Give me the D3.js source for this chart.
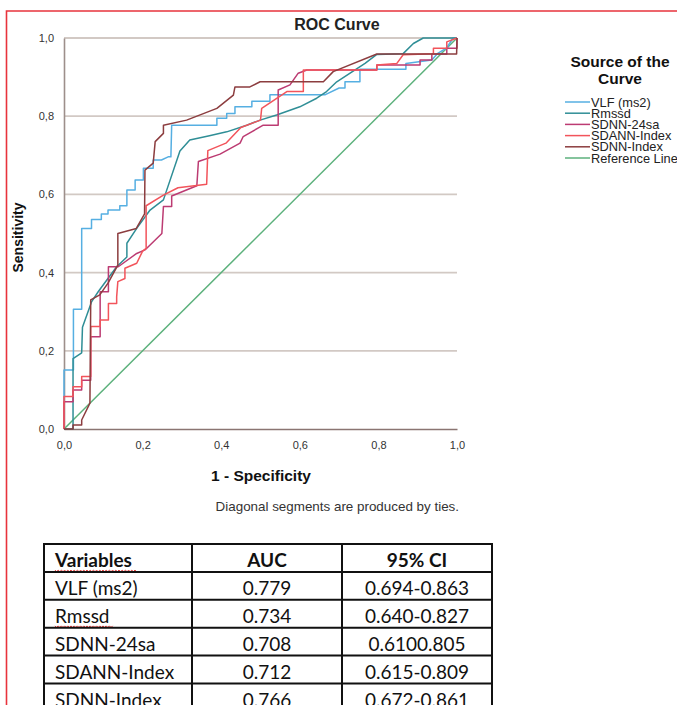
<!DOCTYPE html>
<html>
<head>
<meta charset="utf-8">
<script src="https://cdn.jsdelivr.net/npm/d3@7/dist/d3.min.js"></script>
<style>
  body { margin: 0; background: #ffffff; }
  svg { display: block; }
</style>
</head>
<body>
<svg id="chart" width="677" height="705"></svg>
<script>
// ROC curve coordinates: [1 - specificity, sensitivity]
const vlfPoints = [
  [0,0],[0,0.151],[0.024,0.151],[0.024,0.306],[0.045,0.306],[0.045,0.513],[0.07,0.513],
  [0.07,0.536],[0.095,0.536],[0.095,0.55],[0.112,0.55],[0.112,0.56],[0.142,0.56],
  [0.142,0.571],[0.16,0.571],[0.16,0.611],[0.181,0.611],[0.181,0.637],[0.202,0.637],
  [0.202,0.667],[0.227,0.667],[0.227,0.688],[0.248,0.688],[0.265,0.696],[0.272,0.696],
  [0.274,0.777],[0.389,0.777],[0.389,0.795],[0.414,0.795],[0.414,0.807],[0.435,0.807],
  [0.435,0.824],[0.478,0.824],[0.478,0.838],[0.524,0.838],[0.524,0.855],[0.665,0.855],
  [0.70,0.872],[0.715,0.872],[0.715,0.888],[0.753,0.888],[0.753,0.92],[0.87,0.92],
  [0.87,0.935],[0.936,0.944],[0.95,0.96],[0.974,0.975],[0.99,1],[1,1]
];
const rmssdPoints = [
  [0,0],[0.023,0],[0.023,0.18],[0.045,0.195],[0.047,0.26],[0.07,0.325],[0.087,0.351],
  [0.109,0.381],[0.134,0.415],[0.16,0.44],[0.16,0.475],[0.185,0.513],[0.219,0.56],
  [0.253,0.586],[0.295,0.711],[0.32,0.739],[0.37,0.75],[0.414,0.76],[0.465,0.777],
  [0.499,0.79],[0.541,0.803],[0.60,0.824],[0.643,0.846],[0.668,0.863],[0.694,0.888],
  [0.728,0.91],[0.766,0.935],[0.796,0.958],[0.863,0.96],[0.889,0.986],[0.914,1],[1,1]
];
const sdnn24Points = [
  [0,0],[0,0.07],[0.023,0.07],[0.023,0.10],[0.045,0.10],[0.045,0.125],[0.068,0.125],
  [0.068,0.236],[0.092,0.236],[0.092,0.351],[0.113,0.351],[0.113,0.415],[0.138,0.415],
  [0.185,0.449],[0.206,0.458],[0.249,0.50],[0.253,0.569],[0.274,0.569],[0.274,0.596],
  [0.338,0.622],[0.342,0.684],[0.397,0.703],[0.448,0.731],[0.456,0.748],[0.507,0.777],
  [0.545,0.777],[0.545,0.867],[0.575,0.88],[0.596,0.91],[0.618,0.918],[0.796,0.918],
  [0.796,0.931],[0.906,0.931],[0.906,0.944],[0.936,0.944],[0.936,0.959],[0.974,0.959],
  [0.974,0.974],[1,0.974],[1,1]
];
const sdannPoints = [
  [0,0],[0,0.083],[0.023,0.083],[0.023,0.108],[0.045,0.108],[0.045,0.134],[0.068,0.134],
  [0.068,0.262],[0.092,0.262],[0.092,0.279],[0.113,0.279],[0.113,0.321],[0.134,0.321],
  [0.134,0.338],[0.137,0.377],[0.155,0.385],[0.155,0.411],[0.185,0.424],[0.20,0.455],
  [0.209,0.462],[0.209,0.571],[0.253,0.598],[0.29,0.617],[0.363,0.626],[0.366,0.712],
  [0.412,0.731],[0.45,0.771],[0.50,0.79],[0.503,0.82],[0.567,0.863],[0.609,0.863],
  [0.609,0.918],[0.796,0.918],[0.796,0.931],[0.847,0.935],[0.863,0.957],[0.94,0.96],
  [0.94,0.974],[0.974,0.974],[0.974,0.99],[1,1]
];
const sdnnIndexPoints = [
  [0,0],[0.023,0],[0.023,0.01],[0.045,0.01],[0.045,0.023],[0.066,0.066],[0.068,0.33],
  [0.091,0.343],[0.112,0.373],[0.137,0.419],[0.137,0.50],[0.184,0.513],[0.205,0.55],
  [0.206,0.662],[0.227,0.68],[0.232,0.735],[0.253,0.756],[0.253,0.777],[0.312,0.79],
  [0.389,0.82],[0.431,0.854],[0.435,0.875],[0.473,0.875],[0.499,0.888],[0.66,0.888],
  [0.685,0.914],[0.796,0.959],[0.999,0.959],[1,1]
];
const referencePoints = [[0,0],[1,1]];

const seriesNames = ["VLF (ms2)", "Rmssd", "SDNN-24sa", "SDANN-Index", "SDNN-Index", "Reference Line"];
const axisTicks = [0, 0.2, 0.4, 0.6, 0.8, 1.0];

// Summary table
const tableHeader = ["Variables", "AUC", "95% CI"];
const tableVariables = ["VLF (ms2)", "Rmssd", "SDNN-24sa", "SDANN-Index", "SDNN-Index"];
const tableAuc = ["0.779", "0.734", "0.708", "0.712", "0.766"];
const tableCi = ["0.694-0.863", "0.640-0.827", "0.6100.805", "0.615-0.809", "0.672-0.861"];

// ---- styling ----
const seriesColors = ["#56afe2", "#2f8e96", "#bc3b72", "#f2545b", "#8c3d3f", "#5cb17c"];
const FONT = "'Liberation Sans', Arial, sans-serif";
const TABLE_FONT = "Lato, 'Open Sans', sans-serif";

const svg = d3.select("#chart");

// page frame
svg.append("path")
  .attr("d", "M6.5,705 V11 H677")
  .attr("fill", "none").attr("stroke", "#e8333c").attr("stroke-width", 1.6);

const x = d3.scaleLinear().domain([0, 1]).range([64, 457]);
const y = d3.scaleLinear().domain([0, 1]).range([429, 38]);

const fmt = v => d3.format(".1f")(v).replace(".", ",");

// horizontal grid lines
svg.append("g").selectAll("line")
  .data(axisTicks.filter(t => t > 0))
  .join("line")
  .attr("x1", x(0)).attr("x2", x(1))
  .attr("y1", d => y(d)).attr("y2", d => y(d))
  .attr("stroke", "#d2c9c4").attr("stroke-width", 1.8);

// axes
const xAxis = svg.append("g")
  .attr("transform", `translate(0,${y(0)})`)
  .call(d3.axisBottom(x).tickValues(axisTicks).tickFormat(fmt).tickSize(0).tickPadding(12));
xAxis.select(".domain").attr("stroke", "#8a7572").attr("stroke-width", 1.6);
xAxis.selectAll("text").attr("font-family", FONT).attr("font-size", 11).attr("fill", "#333");

const yAxis = svg.append("g")
  .attr("transform", `translate(${x(0)},0)`)
  .call(d3.axisLeft(y).tickValues(axisTicks).tickFormat(fmt).tickSize(0).tickPadding(10));
yAxis.select(".domain").attr("stroke", "#9d8f8b").attr("stroke-width", 1.6);
yAxis.selectAll("text").attr("font-family", FONT).attr("font-size", 11).attr("fill", "#333");

// curves
const line = d3.line().x(d => x(d[0])).y(d => y(d[1]));
const allSeries = [vlfPoints, rmssdPoints, sdnn24Points, sdannPoints, sdnnIndexPoints, referencePoints];
const drawOrder = [5, 0, 1, 2, 3, 4];
svg.append("g").selectAll("path")
  .data(drawOrder)
  .join("path")
  .attr("d", i => line(allSeries[i]))
  .attr("fill", "none")
  .attr("stroke", i => seriesColors[i])
  .attr("stroke-width", 1.5)
  .attr("stroke-linejoin", "round");

// titles
svg.append("text").attr("x", 337).attr("y", 30).attr("text-anchor", "middle")
  .attr("font-family", FONT).attr("font-weight", "bold").attr("font-size", 16)
  .attr("fill", "#222").text("ROC Curve");

svg.append("text").attr("x", 261).attr("y", 481).attr("text-anchor", "middle")
  .attr("font-family", FONT).attr("font-weight", "bold").attr("font-size", 15.5)
  .attr("fill", "#111").text("1 - Specificity");

svg.append("text")
  .attr("transform", `translate(23,${(y(0) + y(1)) / 2 + 4}) rotate(-90)`)
  .attr("text-anchor", "middle")
  .attr("font-family", FONT).attr("font-weight", "bold").attr("font-size", 14)
  .attr("fill", "#111").text("Sensitivity");

svg.append("text").attr("x", 459).attr("y", 511).attr("text-anchor", "end")
  .attr("font-family", FONT).attr("font-size", 13.4)
  .attr("fill", "#333").text("Diagonal segments are produced by ties.");

// legend
const legend = svg.append("g");
legend.append("text").attr("x", 620).attr("y", 67).attr("text-anchor", "middle")
  .attr("font-family", FONT).attr("font-weight", "bold").attr("font-size", 15.5)
  .attr("fill", "#111").text("Source of the");
legend.append("text").attr("x", 620).attr("y", 84).attr("text-anchor", "middle")
  .attr("font-family", FONT).attr("font-weight", "bold").attr("font-size", 15.5)
  .attr("fill", "#111").text("Curve");

const legendRow = d3.scaleLinear().domain([0, 5]).range([102, 158]);
const items = legend.selectAll("g.item").data(seriesNames).join("g")
  .attr("class", "item")
  .attr("transform", (d, i) => `translate(0,${legendRow(i)})`);
items.append("line").attr("x1", 565).attr("x2", 590).attr("y1", 0).attr("y2", 0)
  .attr("stroke", (d, i) => seriesColors[i]).attr("stroke-width", 1.5);
items.append("text").attr("x", 591).attr("y", 4.5)
  .attr("font-family", FONT).attr("font-size", 12.8).attr("fill", "#222")
  .text(d => d);

// AUC table
const colEdges = [44, 192, 342, 492];
const rowCount = tableVariables.length + 1;
const rowBand = d3.scaleBand().domain(d3.range(rowCount)).range([544, 544 + rowCount * 27.9]);
const table = svg.append("g");

const rows = [tableHeader].concat(tableVariables.map((v, i) => [v, tableAuc[i], tableCi[i]]));
rows.forEach((cells, r) => {
  cells.forEach((txt, c) => {
    const left = c === 0;
    table.append("text")
      .attr("x", left ? colEdges[0] + 11 : (colEdges[c] + colEdges[c + 1]) / 2)
      .attr("y", rowBand(r) + rowBand.bandwidth() - 4.5)
      .attr("text-anchor", left ? "start" : "middle")
      .attr("font-family", TABLE_FONT)
      .attr("font-weight", r === 0 ? "bold" : "normal")
      .attr("font-size", 19)
      .attr("fill", "#111")
      .text(txt);
  });
});

// spell-check squiggles under two labels
function squiggle(x0, x1, yy) {
  const pts = [];
  for (let px = x0, k = 0; px <= x1; px += 1.6, k++) pts.push([px, yy + (k % 2 ? 1.3 : -0.3)]);
  return d3.line()(pts);
}
table.append("path").attr("d", squiggle(55, 138, rowBand(0) + rowBand.bandwidth() - 1.5))
  .attr("fill", "none").attr("stroke", "#e0302e").attr("stroke-width", 1);
table.append("path").attr("d", squiggle(55, 113, rowBand(2) + rowBand.bandwidth() - 1.5))
  .attr("fill", "none").attr("stroke", "#e0302e").attr("stroke-width", 1);

// cell borders
rowBand.domain().concat([rowCount]).forEach(r => {
  const yy = r < rowCount ? rowBand(r) : rowBand(rowCount - 1) + rowBand.bandwidth();
  table.append("line").attr("x1", colEdges[0] - 1).attr("x2", colEdges[3] + 1)
    .attr("y1", yy).attr("y2", yy).attr("stroke", "#111").attr("stroke-width", 2);
});
colEdges.forEach(cx => {
  table.append("line").attr("x1", cx).attr("x2", cx)
    .attr("y1", rowBand(0)).attr("y2", rowBand(rowCount - 1) + rowBand.bandwidth())
    .attr("stroke", "#111").attr("stroke-width", 2);
});
</script>
</body>
</html>
